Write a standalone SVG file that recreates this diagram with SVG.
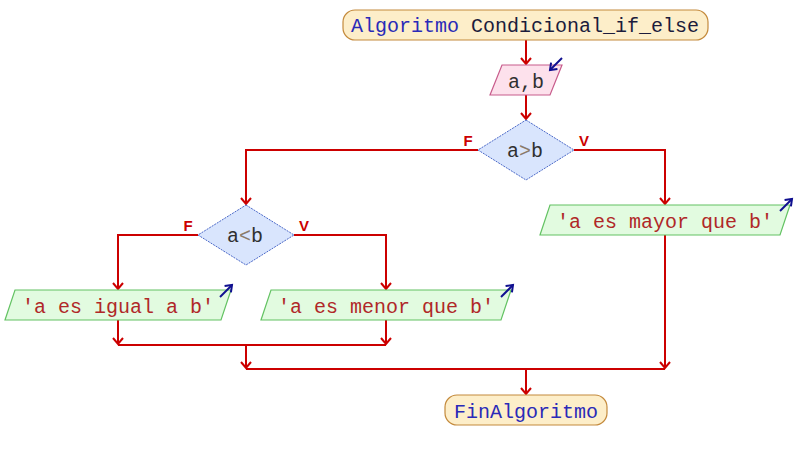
<svg xmlns="http://www.w3.org/2000/svg" width="796" height="460" viewBox="0 0 796 460">
<style>
.t{font-family:"Liberation Mono","Courier New",monospace;font-size:20px;text-anchor:middle}
.term{fill:#fdeec9;stroke:#c48a3c;stroke-width:1.2}
.inp{fill:#fde1ec;stroke:#c85c8c;stroke-width:1.2}
.dec{fill:#d9e5fd;stroke:#4a68c8;stroke-width:1;stroke-dasharray:2 1}
.out{fill:#e2fbe0;stroke:#62c262;stroke-width:1.2}
.kw{fill:#2a2ab8}
.id{fill:#1c1c3c}
.str{fill:#b02828}
.var{fill:#303030}
.op{fill:#8a7a6a}
.lbl{font-family:"Liberation Sans",Arial,sans-serif;font-size:15px;font-weight:bold;fill:#cc0000;text-anchor:middle}
.c{fill:none;stroke:#cc0000;stroke-width:2}
.io{fill:none;stroke:#101090;stroke-width:2}
</style>
<defs>
<marker id="ah" markerUnits="userSpaceOnUse" markerWidth="14" markerHeight="14" viewBox="-7 -7 14 14" refX="0" refY="0" orient="auto">
<path d="M-6,-5 L0,0 L-6,5" fill="none" stroke="#cc0000" stroke-width="2"/>
</marker>
<marker id="bh" markerUnits="userSpaceOnUse" markerWidth="14" markerHeight="14" viewBox="-7 -7 14 14" refX="0" refY="0" orient="auto">
<path d="M-6,-4.5 L0,0 L-6,4.5" fill="none" stroke="#101090" stroke-width="2"/>
</marker>
</defs>
<g id="connectors">
<path class="c" d="M526,40 V64" marker-end="url(#ah)"/>
<path class="c" d="M526,95 V119" marker-end="url(#ah)"/>
<path class="c" d="M478,150 H246 V204" marker-end="url(#ah)"/>
<path class="c" d="M574,150 H665 V204" marker-end="url(#ah)"/>
<path class="c" d="M198,235 H118 V289" marker-end="url(#ah)"/>
<path class="c" d="M294,235 H386 V289" marker-end="url(#ah)"/>
<path class="c" d="M118,320 V344" marker-end="url(#ah)"/>
<path class="c" d="M386,320 V344" marker-end="url(#ah)"/>
<path class="c" d="M118,345 H386"/>
<path class="c" d="M246,345 V368" marker-end="url(#ah)"/>
<path class="c" d="M246,369 H665"/>
<path class="c" d="M665,235 V368" marker-end="url(#ah)"/>
<path class="c" d="M526,369 V394" marker-end="url(#ah)"/>
<text class="lbl" x="468" y="146">F</text>
<text class="lbl" x="584" y="146">V</text>
<text class="lbl" x="188" y="231">F</text>
<text class="lbl" x="304" y="231">V</text>
</g>
<g id="inicio">
<rect class="term" x="343" y="10" width="365" height="30" rx="12"/>
<text class="t" x="525" y="32"><tspan class="kw">Algoritmo</tspan><tspan class="id"> Condicional_if_else</tspan></text>
</g>
<g id="leer">
<polygon class="inp" points="502,65 562,65 550,95 490,95"/>
<text class="t var" x="526" y="88">a,b</text>
<path class="io" d="M562,58 L550,70" marker-end="url(#bh)"/>
</g>
<g id="si1">
<polygon class="dec" points="526,120 574,150 526,180 478,150"/>
<text class="t" x="525" y="157"><tspan class="var">a</tspan><tspan class="op">&gt;</tspan><tspan class="var">b</tspan></text>
</g>
<g id="si2">
<polygon class="dec" points="246,205 294,235 246,265 198,235"/>
<text class="t" x="245" y="242"><tspan class="var">a</tspan><tspan class="op">&lt;</tspan><tspan class="var">b</tspan></text>
</g>
<g id="mayor">
<polygon class="out" points="550,205 790,205 780,235 540,235"/>
<text class="t str" x="665" y="228">'a es mayor que b'</text>
<path class="io" d="M780,211 L792,199" marker-end="url(#bh)"/>
</g>
<g id="igual">
<polygon class="out" points="15,290 231,290 221,320 5,320"/>
<text class="t str" x="118" y="313">'a es igual a b'</text>
<path class="io" d="M220,297 L232,285" marker-end="url(#bh)"/>
</g>
<g id="menor">
<polygon class="out" points="271,290 511,290 501,320 261,320"/>
<text class="t str" x="386" y="313">'a es menor que b'</text>
<path class="io" d="M501,297 L513,285" marker-end="url(#bh)"/>
</g>
<g id="fin">
<rect class="term" x="445" y="395" width="162" height="30" rx="12"/>
<text class="t kw" x="526" y="418">FinAlgoritmo</text>
</g>
</svg>
